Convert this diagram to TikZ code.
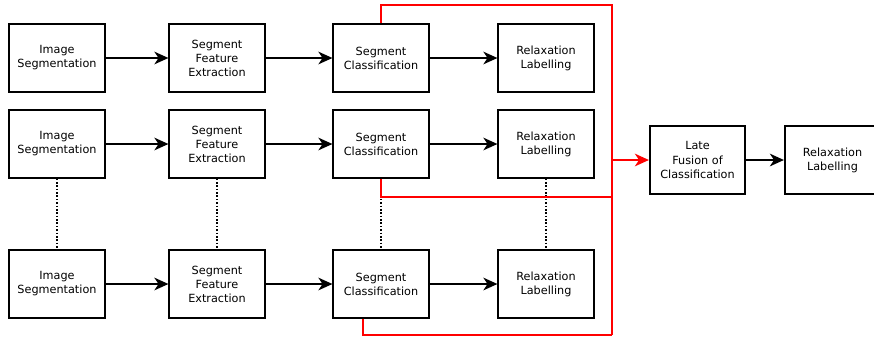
\documentclass[tikz,border=0pt]{standalone}
\usepackage{fontspec}
\setmainfont{DejaVu Sans}
\usetikzlibrary{arrows.meta,calc}

\tikzset{
  stage/.style={draw, line width=1.4pt, minimum width=2.38cm, minimum height=1.68cm,
    align=center, inner sep=1pt, font=\fontsize{8}{10}\selectfont},
  flow/.style={line width=1.3pt, -{Stealth[length=10pt,width=9pt,inset=3pt]}},
  link/.style={line width=1.1pt, dash pattern=on 1.1pt off 1.3pt},
  fuse/.style={red, line width=1.1pt},
}

\begin{document}
\begin{tikzpicture}[x=0.025cm, y=-0.025cm]
    \useasboundingbox (0,0) rectangle (874,337);

    % Three parallel pipelines
    \foreach \r/\y in {1/58, 2/144, 3/284} {
        \node[stage] (seg\r) at (57,\y) {Image\\Segmentation};
        \node[stage] (feat\r) at (217,\y) {Segment\\Feature\\Extraction};
        \node[stage] (cls\r) at (381,\y) {Segment\\Classification};
        \node[stage] (rlx\r) at (546,\y) {Relaxation\\Labelling};
        \draw[flow] (seg\r) -- (feat\r);
        \draw[flow] (feat\r) -- (cls\r);
        \draw[flow] (cls\r) -- (rlx\r);
    }

    % Dotted links between the second and last pipeline
    \draw[link] (seg2) -- (seg3);
    \draw[link] (feat2) -- (feat3);
    \draw[link] (cls2) -- (cls3);
    \draw[link] (rlx2) -- (rlx3);

    % Late fusion
    \node[stage] (late) at (697.5,160) {Late\\Fusion of\\Classification};
    \node[stage] (final) at (832.5,160) {Relaxation\\Labelling};
    \draw[flow] (late) -- (final);

    % Red collecting lines
    \coordinate (bus) at (612,160);
    \draw[fuse] (cls1.north) |- (612,5) -- (612,335);
    \draw[fuse] (cls2.south) |- (612,197);
    \draw[fuse] ($(cls3.south)+(-18,0)$) |- (612,335);
    \draw[flow, red] (bus) -- (late);
\end{tikzpicture}
\end{document}
